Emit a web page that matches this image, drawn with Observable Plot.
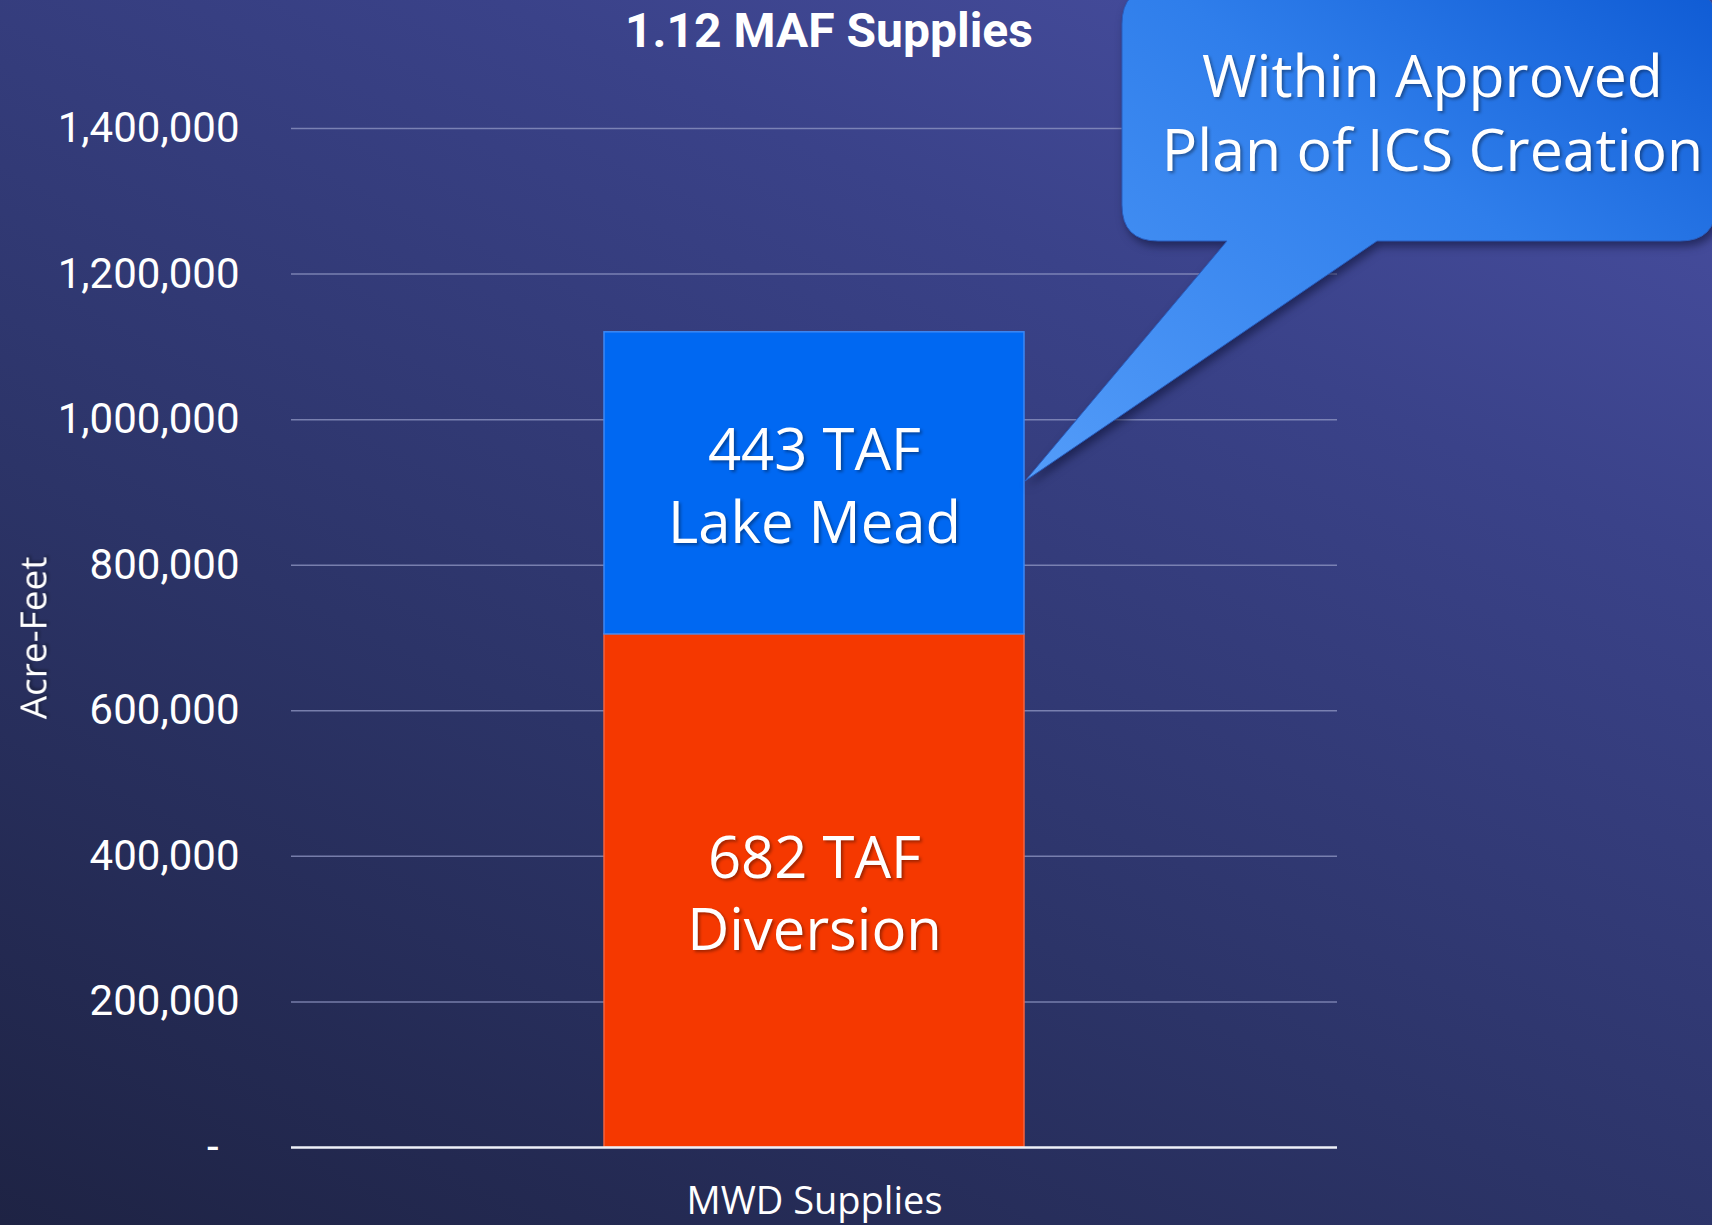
<!DOCTYPE html>
<html>
<head>
<meta charset="utf-8">
<script src="https://cdn.jsdelivr.net/npm/d3@7"></script>
<script src="https://cdn.jsdelivr.net/npm/@observablehq/plot@0.6"></script>
<style>
  html, body { margin: 0; padding: 0; }
  #page {
    position: relative;
    width: 1712px; height: 1225px; overflow: hidden;
    background: linear-gradient(205deg, #4b51a6 0%, #3a4289 28%, #2c3468 62%, #1e2344 100%);
  }
  #title {
    height: 80px; box-sizing: border-box; padding-top: 7px;
    width: 1658px; text-align: center;
    font-family: Roboto, sans-serif; font-weight: 700; font-size: 48px; line-height: 48px;
    color: white;
  }
  #chart svg { display: block; overflow: visible; }
</style>
</head>
<body>
<div id="page">
  <div id="title"></div>
  <div id="chart"></div>
</div>
<script>
// ---- data ----
const titleText = "1.12 MAF Supplies";
const categories = ["MWD Supplies"];
const series = ["Diversion", "Lake Mead"];
const values = [705000, 415000];
const segmentLabels = ["682 TAF\nDiversion", "443 TAF\nLake Mead"];
const seriesColors = ["#f53800", "#0068f2"];
const seriesEdges = ["#f2633f", "#3c88f5"];
const yTicks = [0, 200000, 400000, 600000, 800000, 1000000, 1200000, 1400000];
const yLabel = "Acre-Feet";
const calloutText = "Within Approved\nPlan of ICS Creation";
const calloutTarget = 915000;

document.getElementById("title").textContent = titleText;

const rows = series.map((s, i) => ({
  category: categories[0], series: s, value: values[i], label: segmentLabels[i]
}));

const W = 1712, H = 1145;
const marginLeft = 291, marginRight = 375, marginTop = 48, marginBottom = 78;

function calloutBubble(index, scales, vals, dims) {
  const xs = scales.x, ys = scales.y;
  const bw = typeof xs.bandwidth === "function" ? xs.bandwidth() : 0;
  const tx = xs(categories[0]) + bw + 1;
  const ty = ys(calloutTarget);
  const L = 1122, R = dims.width + 4, T = -92, B = 161, r = 36;
  const x1 = 1227, x2 = 1377;
  const g = d3.create("svg:g");
  const defs = g.append("defs");
  const grad = defs.append("linearGradient").attr("id", "bubbleGrad")
    .attr("x1", 1).attr("y1", 0).attr("x2", 0).attr("y2", 1);
  grad.append("stop").attr("offset", 0).attr("stop-color", "#0f5bd4");
  grad.append("stop").attr("offset", 0.4).attr("stop-color", "#2f7eeb");
  grad.append("stop").attr("offset", 1).attr("stop-color", "#539cf9");
  const p = d3.path();
  p.moveTo(L + r, T);
  p.lineTo(R - r, T);
  p.quadraticCurveTo(R, T, R, T + r);
  p.lineTo(R, B - r);
  p.quadraticCurveTo(R, B, R - r, B);
  p.lineTo(x2, B);
  p.lineTo(tx, ty);
  p.lineTo(x1, B);
  p.lineTo(L + r, B);
  p.quadraticCurveTo(L, B, L, B - r);
  p.lineTo(L, T + r);
  p.quadraticCurveTo(L, T, L + r, T);
  p.closePath();
  g.append("path").attr("d", p.toString())
    .attr("fill", "url(#bubbleGrad)")
    .attr("stroke", "#2a5fc0").attr("stroke-width", 1)
    .style("filter", "drop-shadow(3px 5px 4px rgba(10,15,50,0.55))");
  return g.node();
}

const chart = Plot.plot({
  width: W, height: H,
  marginLeft, marginRight, marginTop, marginBottom,
  style: { background: "transparent", color: "white", overflow: "visible" },
  x: { domain: categories, padding: 0.427, axis: null },
  y: { domain: [0, 1400000], axis: null },
  color: { domain: series, range: seriesColors },
  marks: [
    Plot.gridY(yTicks.filter(d => d > 0), { stroke: "#9298c4", strokeOpacity: 0.75, strokeWidth: 1.5 }),
    Plot.axisY(yTicks, {
      tickSize: 0, tickPadding: 52, fontSize: 42, fontFamily: "Roboto", fill: "white",
      tickFormat: d => d === 0 ? "-\u00a0\u00a0" : d3.format(",")(d), label: null
    }),
    Plot.text([yLabel], {
      frameAnchor: "left", dx: -257, rotate: -90, textAnchor: "middle", lineAnchor: "middle",
      fontSize: 37, fontFamily: "Open Sans", fill: "white"
    }),
    Plot.axisX({
      tickSize: 0, tickPadding: 40, fontSize: 38, fontFamily: "Open Sans", fill: "white", label: null
    }),
    Plot.barY(rows, {
      x: "category", y: "value", fill: "series",
      stroke: (d, i) => seriesEdges[i], strokeWidth: 1.5
    }),
    Plot.ruleY([0], { stroke: "#eef0f8", strokeWidth: 2.5 }),
    Plot.text(rows, Plot.stackY({
      x: "category", y: "value", text: "label",
      fontSize: 58, lineHeight: 1.25, fontFamily: "Open Sans", fill: "white",
      lineAnchor: "middle", textAnchor: "middle"
    })),
    calloutBubble,
    Plot.text([calloutText], {
      frameAnchor: "top-left", dx: 1141, dy: -84, lineAnchor: "top", textAnchor: "middle",
      fontSize: 59, lineHeight: 1.25, fontFamily: "Open Sans", fill: "white"
    })
  ]
});

// soft text shadows like the original
d3.select(chart).selectAll("g[aria-label='text'] text")
  .style("filter", "drop-shadow(2px 2px 1.5px rgba(0,0,0,0.35))");

document.getElementById("chart").appendChild(chart);
</script>
</body>
</html>
